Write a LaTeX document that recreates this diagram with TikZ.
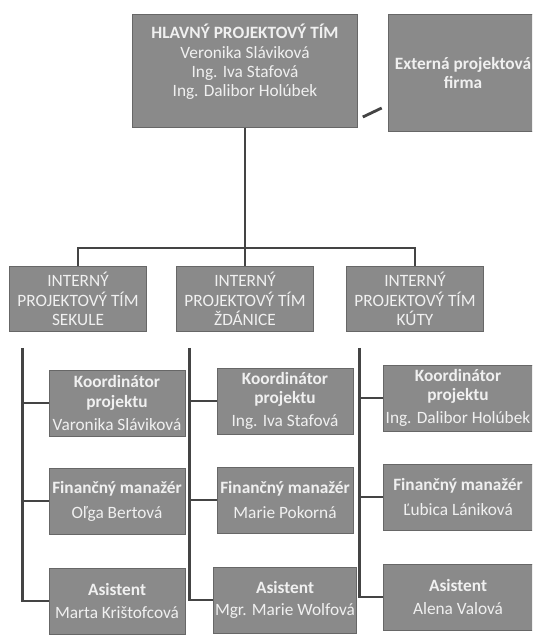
\documentclass[tikz,border=0pt]{standalone}
\usepackage{fontspec}
\setmainfont{Carlito}
\usetikzlibrary{calc}

\definecolor{boxgray}{HTML}{8A8A8A}
\definecolor{linegray}{HTML}{444444}

\tikzset{
  box/.style={rectangle, fill=boxgray, draw=boxgray!75!black, text=white!94!black,
    align=center, inner sep=1pt, font=\fontsize{12.3}{13.8}\selectfont},
  headbox/.style={box, minimum width=5.625cm, minimum height=2.825cm},
  extbox/.style={box, minimum width=3.75cm, minimum height=2.925cm},
  teambox/.style={box, minimum width=3.425cm, minimum height=1.625cm},
  rolebox/.style={box, minimum width=3.4cm, minimum height=1.65cm},
  line/.style={draw=linegray, line width=2pt},
}

\begin{document}
\begin{tikzpicture}[x=0.025cm, y=-0.025cm]
    \useasboundingbox[fill=white] (0,0) rectangle (532,635);
    \clip (0,0) rectangle (532,635);

    % hlavny projektovy tim
    \node[headbox] (hlavny) at (245,71)
      {\textbf{HLAVNÝ PROJEKTOVÝ TÍM}\\Veronika Sláviková\\Ing. Iva Stafová\\Ing. Dalibor Holúbek\\[1pt]\mbox{}};
    % externa firma
    \node[extbox] (ext) at (463,73) {\textbf{Externá projektová}\\\textbf{firma}};

    % interne timy
    \node[teambox] (tim1) at (78,299) {INTERNÝ\\PROJEKTOVÝ TÍM\\SEKULE};
    \node[teambox] (tim2) at (245,299) {INTERNÝ\\PROJEKTOVÝ TÍM\\ŽDÁNICE};
    \node[teambox] (tim3) at (415,299) {INTERNÝ\\PROJEKTOVÝ TÍM\\KÚTY};

    % Sekule
    \node[rolebox] (koord1) at (117,403) {\textbf{Koordinátor}\\\textbf{projektu}\\[2.5pt]Varonika Sláviková};
    \node[rolebox] (fin1) at (117,501) {\textbf{Finančný manažér}\\[4pt]Oľga Bertová};
    \node[rolebox] (asist1) at (117,601) {\textbf{Asistent}\\[2pt]Marta Krištofcová};
    % Zdanice
    \node[rolebox] (koord2) at (285,401) {\textbf{Koordinátor}\\\textbf{projektu}\\[2.5pt]Ing. Iva Stafová};
    \node[rolebox] (fin2) at (285,500) {\textbf{Finančný manažér}\\[4pt]Marie Pokorná};
    \node[rolebox] (asist2) at (285,600) {\textbf{Asistent}\\[2pt]Mgr. Marie Wolfová};
    % Kuty
    \node[rolebox, minimum width=3.75cm] (koord3) at (458,398) {\textbf{Koordinátor}\\\textbf{projektu}\\[2.5pt]Ing. Dalibor Holúbek};
    \node[rolebox, minimum width=3.75cm] (fin3) at (458,497) {\textbf{Finančný manažér}\\[4pt]Ľubica Lániková};
    \node[rolebox, minimum width=3.75cm] (asist3) at (458,597) {\textbf{Asistent}\\[2pt]Alena Valová};

    % spojenia
    \draw[line] ($(hlavny.east)+(5,46)$) -- ($(ext.west)+(-6,35)$);
    \coordinate (bus) at (245,248);
    \draw[line] (hlavny.south) -- (tim2.north);
    \draw[line] (tim1.north) |- (bus) -| (tim3.north);

    \foreach \c in {1,2,3} {
      \coordinate (spine\c) at ($(tim\c.south west)+(13,16)$);
      \draw[line] (spine\c) |- (asist\c.west);
      \draw[line] (koord\c.west -| spine\c) -- (koord\c.west);
      \draw[line] (fin\c.west -| spine\c) -- (fin\c.west);
    }
\end{tikzpicture}
\end{document}
